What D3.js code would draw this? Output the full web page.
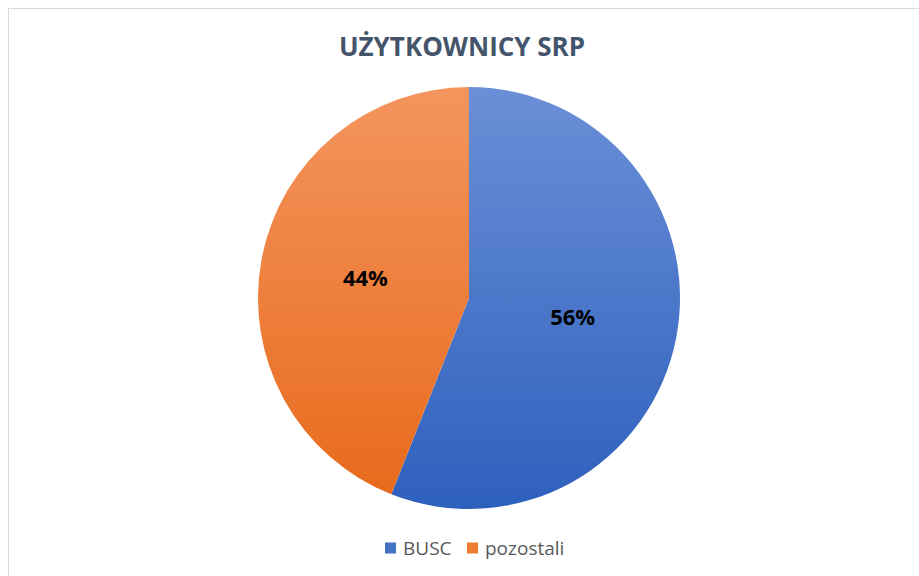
<!DOCTYPE html>
<html>
<head>
  <meta charset="utf-8">
  <title>Użytkownicy SRP</title>
  <style>
    body { margin: 0; background: #fff; font-family: "Open Sans", sans-serif; }
    svg { display: block; }
  </style>
</head>
<body>
  <svg width="919" height="576"></svg>
  <script src="https://d3js.org/d3.v7.min.js"></script>
  <script>
    const categories = ["BUSC", "pozostali"];
    const values = [56, 44];
    const colorsTop = ["#6b8fd7", "#f3955e"];
    const colorsBottom = ["#2d60bd", "#e8691a"];
    const legendColors = ["#4472c4", "#ed7d31"];

    const svg = d3.select("svg");

    // chart border (runs off the right and bottom edges)
    svg.append("rect")
      .attr("x", 8.5).attr("y", 8.5)
      .attr("width", 930).attr("height", 600)
      .attr("fill", "none")
      .attr("stroke", "#d9d9d9");

    svg.append("text")
      .attr("x", 462).attr("y", 56)
      .attr("text-anchor", "middle")
      .attr("font-size", "26px")
      .attr("font-weight", "bold")
      .attr("fill", "#44546a")
      .text("UŻYTKOWNICY SRP");

    const cx = 469, cy = 298, r = 211;

    // vertical gradients, in the pie group's coordinates
    const defs = svg.append("defs");
    categories.forEach((c, i) => {
      const grad = defs.append("linearGradient")
        .attr("id", "grad" + i)
        .attr("gradientUnits", "userSpaceOnUse")
        .attr("x1", 0).attr("y1", -r)
        .attr("x2", 0).attr("y2", r);
      grad.append("stop").attr("offset", "0%").attr("stop-color", colorsTop[i]);
      grad.append("stop").attr("offset", "100%").attr("stop-color", colorsBottom[i]);
    });

    const pie = d3.pie().sort(null).value(d => d)(values);
    const arc = d3.arc().innerRadius(0).outerRadius(r);

    const g = svg.append("g").attr("transform", `translate(${cx},${cy})`);
    g.selectAll("path")
      .data(pie).enter()
      .append("path")
      .attr("d", arc)
      .attr("fill", (d, i) => `url(#grad${i})`);

    const total = d3.sum(values);
    g.selectAll("text.lbl")
      .data(pie).enter()
      .append("text")
      .attr("class", "lbl")
      .attr("x", d => arc.centroid(d)[0])
      .attr("y", d => arc.centroid(d)[1])
      .attr("dy", "0.35em")
      .attr("text-anchor", "middle")
      .attr("font-size", "22px")
      .attr("font-weight", "bold")
      .attr("fill", "#000")
      .text(d => Math.round(d.value / total * 100) + "%");

    // legend
    const legendX = [385, 467];
    const leg = svg.selectAll("g.leg")
      .data(categories).enter()
      .append("g")
      .attr("class", "leg")
      .attr("transform", (d, i) => `translate(${legendX[i]},548)`);
    leg.append("rect")
      .attr("x", 0).attr("y", -5.5)
      .attr("width", 11).attr("height", 11)
      .attr("fill", (d, i) => legendColors[i]);
    leg.append("text")
      .attr("x", 18).attr("dy", "0.35em")
      .attr("font-size", "19px")
      .attr("fill", "#595959")
      .text(d => d);
  </script>
</body>
</html>
